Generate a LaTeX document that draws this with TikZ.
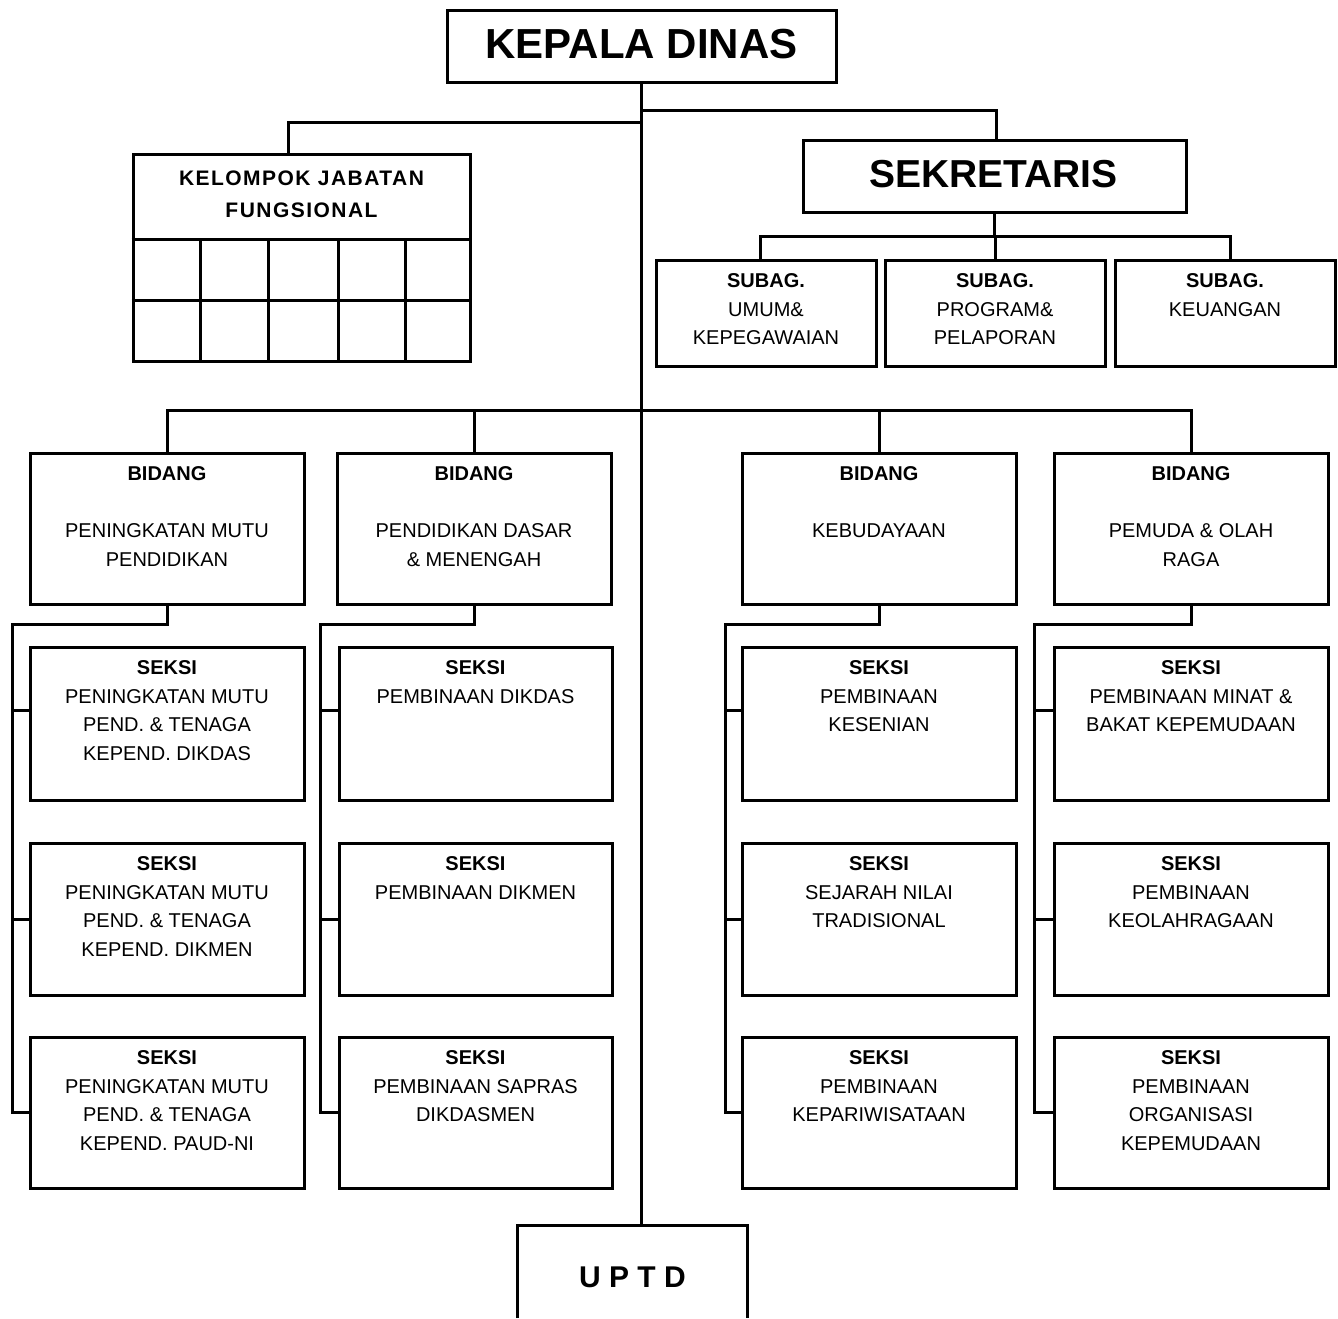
\documentclass[tikz,border=0pt]{standalone}
\usepackage{fontspec}
\setmainfont{Liberation Sans}
\newcommand\mkbox[5]{\node[box, minimum width={#4-#2}, minimum height={#5-#3}] (#1) at ({(#2+#4)/2},{(#3+#5)/2}) {};}
\newcommand\boxtext[3]{\node[txt, anchor=north] (#1-t) at ([yshift=-#2]#1.north) {#3};}
\begin{document}
\begin{tikzpicture}[x=1pt,y=-1pt,
  box/.style={draw, line width=3pt, inner sep=0pt},
  conn/.style={line width=3pt},
  txt/.style={align=center, inner sep=0pt, font=\fontsize{20}{28.6}\selectfont},
]
\useasboundingbox (0,0) rectangle (1338,1318);
\fill[white] (0,0) rectangle (1338,1318);

% ---------- boxes ----------
\mkbox{kd}{447}{10}{836}{82}
\mkbox{sek}{803}{140}{1186}{212}
\mkbox{kjf}{133}{154}{470}{361}
\mkbox{s1}{656}{260}{876}{366}
\mkbox{s2}{885}{260}{1105}{366}
\mkbox{s3}{1115}{260}{1335}{366}
\mkbox{b1}{30}{453}{304}{604}
\mkbox{b2}{337}{453}{611}{604}
\mkbox{b3}{742}{453}{1016}{604}
\mkbox{b4}{1054}{453}{1328}{604}
% seksi column 1
\mkbox{k11}{30}{647}{304}{800}
\mkbox{k12}{30}{843}{304}{995}
\mkbox{k13}{30}{1037}{304}{1188}
% column 2
\mkbox{k21}{339}{647}{612}{800}
\mkbox{k22}{339}{843}{612}{995}
\mkbox{k23}{339}{1037}{612}{1188}
% column 3
\mkbox{k31}{742}{647}{1016}{800}
\mkbox{k32}{742}{843}{1016}{995}
\mkbox{k33}{742}{1037}{1016}{1188}
% column 4
\mkbox{k41}{1054}{647}{1328}{800}
\mkbox{k42}{1054}{843}{1328}{995}
\mkbox{k43}{1054}{1037}{1328}{1188}
% UPTD (open at the bottom)
\node[inner sep=0pt, minimum width=229, minimum height=92] (uptd) at (632.5,1272) {};
\draw[conn] (uptd.south west) -- (uptd.north west) -- (uptd.north east) -- (uptd.south east);
\node[inner sep=0pt, font=\bfseries\fontsize{30}{30}\selectfont] (uptd-t) at ([yshift=-5pt]uptd.center) {U P T D};

% KJF grid
\draw[conn] (kjf.west |- 0,239) -- (kjf.east |- 0,239);
\draw[conn] (kjf.west |- 0,300) -- (kjf.east |- 0,300);
\foreach \cx in {200,268,338,405} \draw[conn] (\cx,239) -- (kjf.south -| \cx,0);

% ---------- texts ----------
\node[inner sep=0pt, font=\bfseries\fontsize{42}{42}\selectfont] (kd-t) at ([yshift=2pt]kd.center) {KEPALA DINAS};
\node[inner sep=0pt, font=\bfseries\fontsize{39}{39}\selectfont] (sek-t) at ([yshift=2pt,xshift=-1pt]sek.center) {SEKRETARIS};
\node[txt, anchor=north, font=\bfseries\fontsize{21}{32}\selectfont\addfontfeature{LetterSpace=7}] (kjf-t) at ([yshift=-18pt]kjf.north) {KELOMPOK JABATAN\\FUNGSIONAL};

\boxtext{s1}{15pt}{\textbf{SUBAG.}\\UMUM\&\\KEPEGAWAIAN}
\boxtext{s2}{15pt}{\textbf{SUBAG.}\\PROGRAM\&\\PELAPORAN}
\boxtext{s3}{15pt}{\textbf{SUBAG.}\\KEUANGAN}

\boxtext{b1}{15pt}{\textbf{BIDANG}\\[28.5pt]PENINGKATAN MUTU\\PENDIDIKAN}
\boxtext{b2}{15pt}{\textbf{BIDANG}\\[28.5pt]PENDIDIKAN DASAR\\\& MENENGAH}
\boxtext{b3}{15pt}{\textbf{BIDANG}\\[28.5pt]KEBUDAYAAN}
\boxtext{b4}{15pt}{\textbf{BIDANG}\\[28.5pt]PEMUDA \& OLAH\\RAGA}

\boxtext{k11}{15pt}{\textbf{SEKSI}\\PENINGKATAN MUTU\\PEND. \& TENAGA\\KEPEND. DIKDAS}
\boxtext{k12}{15pt}{\textbf{SEKSI}\\PENINGKATAN MUTU\\PEND. \& TENAGA\\KEPEND. DIKMEN}
\boxtext{k13}{15pt}{\textbf{SEKSI}\\PENINGKATAN MUTU\\PEND. \& TENAGA\\KEPEND. PAUD-NI}
\boxtext{k21}{15pt}{\textbf{SEKSI}\\PEMBINAAN DIKDAS}
\boxtext{k22}{15pt}{\textbf{SEKSI}\\PEMBINAAN DIKMEN}
\boxtext{k23}{15pt}{\textbf{SEKSI}\\PEMBINAAN SAPRAS\\DIKDASMEN}
\boxtext{k31}{15pt}{\textbf{SEKSI}\\PEMBINAAN\\KESENIAN}
\boxtext{k32}{15pt}{\textbf{SEKSI}\\SEJARAH NILAI\\TRADISIONAL}
\boxtext{k33}{15pt}{\textbf{SEKSI}\\PEMBINAAN\\KEPARIWISATAAN}
\boxtext{k41}{15pt}{\textbf{SEKSI}\\PEMBINAAN MINAT \&\\BAKAT KEPEMUDAAN}
\boxtext{k42}{15pt}{\textbf{SEKSI}\\PEMBINAAN\\KEOLAHRAGAAN}
\boxtext{k43}{15pt}{\textbf{SEKSI}\\PEMBINAAN\\ORGANISASI\\KEPEMUDAAN}

% ---------- connectors ----------
\coordinate (ysek) at (0,110);
\coordinate (ykjf) at (0,122);
\coordinate (ysub) at (0,236);
\coordinate (ybid) at (0,410);
\coordinate (yrail) at (0,624);

\draw[conn] (kd.south) -- (kd.south |- uptd.north);
\draw[conn] (kd.south |- ysek) -| ([xshift=1.5pt]sek.north);
\draw[conn] (kd.south |- ykjf) -| ([xshift=-13.5pt]kjf.north);

\draw[conn] (sek.south) -- (sek.south |- ysub);
\draw[conn] ([xshift=-6pt]s1.north) |- ([xshift=5pt]s3.north |- ysub) -- ([xshift=5pt]s3.north);
\draw[conn] (s2.north) -- (s2.north |- ysub);

\draw[conn] (b1.north) |- (b4.north |- ybid) -- (b4.north);
\draw[conn] (b2.north) -- (b2.north |- ybid);
\draw[conn] (b3.north) -- (b3.north |- ybid);

\coordinate (r1) at (12,0);
\coordinate (r2) at (320,0);
\coordinate (r3) at (725,0);
\coordinate (r4) at (1034,0);
\foreach \c in {1,2,3,4}{
  \draw[conn] (b\c.south) |- (r\c |- yrail) |- (k\c3.west);
  \coordinate (t\c1) at ([yshift=13pt]k\c1.west);
  \draw[conn] (t\c1) -- (t\c1 -| r\c);
  \draw[conn] (k\c2.west) -- (k\c2.west -| r\c);
}
\end{tikzpicture}
\end{document}
